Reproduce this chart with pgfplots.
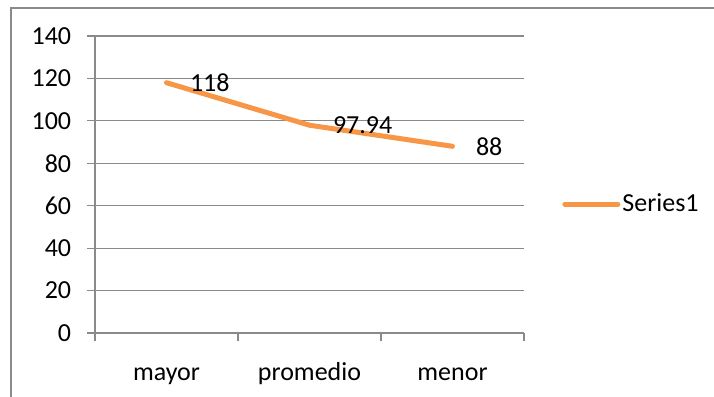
\documentclass[border=0pt]{standalone}
\usepackage{pgfplots}
\pgfplotsset{compat=1.18}
\usepackage{fontspec}
\setmainfont{Carlito}
\definecolor{lineor}{HTML}{F79646}
\definecolor{gridg}{HTML}{8A8A8A}
\begin{document}
\fontsize{26bp}{30bp}\selectfont
\begin{tikzpicture}[x=1bp,y=1bp]
\useasboundingbox (0,0) rectangle (714,396);
\draw[gridg, line width=1.2bp] (11,-5) -- (11,388) -- (720,388);
\begin{axis}[
  at={(95bp,63bp)}, anchor=south west,
  scale only axis, width=429bp, height=297bp,
  xmin=0.5, xmax=3.5, ymin=0, ymax=140,
  xtick={0.5,1.5,2.5,3.5}, xticklabels={mayor,promedio,menor},
  x tick label as interval,
  ytick={0,20,...,140},
  ymajorgrids, grid style={gridg, line width=1.2bp},
  axis x line*=bottom, axis y line*=left,
  axis line style={gridg, line width=1.2bp, -},
  tick align=outside, major tick length=8bp,
  tick style={gridg, line width=1.2bp},
  tick label style={font=\fontsize{26bp}{30bp}\selectfont, text=black},
  xticklabel style={text height=0.7em, text depth=0.25em, yshift=-12bp},
  yticklabel style={xshift=-7bp},
  /pgf/number format/assume math mode=true,
  clip=false,
  legend style={at={(1.089,0.434)}, anchor=west, draw=none, fill=none,
    inner sep=0pt, font=\fontsize{26bp}{30bp}\selectfont,
    nodes={inner sep=2bp}},
  legend cell align=left,
  legend image code/.code={\draw[#1] (0bp,0bp) -- (53bp,0bp);},
]
\addplot[lineor, line width=5bp, line join=round, line cap=round,
  nodes near coords, point meta=explicit symbolic,
  every node near coord/.append style={anchor=west, xshift=21bp, inner sep=0pt,
    text=black, font=\fontsize{26bp}{30bp}\selectfont}]
  coordinates {(1,118)[118] (2,97.94)[97.94] (3,88)[88]};
\addlegendentry{Series1}
\end{axis}
\end{tikzpicture}
\end{document}
